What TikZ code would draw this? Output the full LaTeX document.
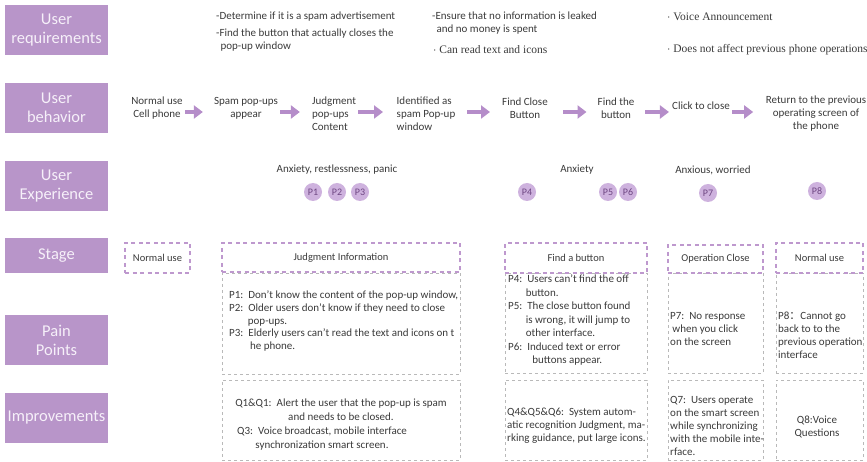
\documentclass[tikz,border=0pt]{standalone}
\usepackage{fontspec}
\setmainfont{Carlito}
\newfontfamily\serifrm{Liberation Serif}
\newfontfamily\cjk{Noto Sans CJK SC}
\usepackage{tikz}
\usetikzlibrary{arrows.meta,positioning}
\definecolor{labelpurple}{RGB}{184,149,201}
\definecolor{labeltext}{RGB}{246,240,249}
\definecolor{arrowpurple}{RGB}{181,141,201}
\definecolor{dotpurple}{RGB}{206,178,222}
\definecolor{dottext}{RGB}{110,70,130}
\definecolor{dashpurple}{RGB}{190,152,206}
\definecolor{cellgray}{RGB}{185,185,185}
\definecolor{inkgray}{RGB}{58,58,58}

\begin{document}
\begin{tikzpicture}[x=1pt, y=-1pt,
  rowlabel/.style={fill=labelpurple, text=labeltext, minimum width=103pt, align=center, inner sep=0pt, font=\fontsize{16.5}{19}\selectfont},
  act/.style={align=center, inner sep=0pt, text=inkgray, font=\fontsize{11}{13}\selectfont},
  need/.style={anchor=west, align=left, inner sep=0pt, text=inkgray, font=\fontsize{11}{13}\selectfont},
  flow/.style={-{Triangle[length=9pt,width=13pt]}, line width=3.6pt, arrowpurple},
  pdot/.style={circle, fill=dotpurple, minimum size=18pt, inner sep=0pt, text=dottext, font=\fontsize{10}{11}\selectfont},
  stagebox/.style={draw=dashpurple, line width=1.6pt, dash pattern=on 4pt off 3.5pt, inner sep=0pt, text=inkgray, font=\fontsize{10.5}{12}\selectfont},
  cellbox/.style={draw=cellgray, line width=0.6pt, dash pattern=on 3pt off 3pt, inner sep=0pt},
  note/.style={anchor=north west, align=left, inner sep=0pt, text=inkgray, font=\fontsize{11}{13}\selectfont}
]
\useasboundingbox (0,0) rectangle (867,462);

% row labels
\node[rowlabel, minimum height=50pt] (lreq) at (56.5,30) {User\\requirements};
\node[rowlabel, minimum height=50pt] (lbeh) at (56.5,108) {User\\behavior};
\node[rowlabel, minimum height=50pt] (lexp) at (56.5,186) {User\\Experience};
\node[rowlabel, minimum height=35pt] (lstg) at (56.5,255.5) {Stage};
\node[rowlabel, minimum height=50pt] (lpain) at (56.5,340) {Pain\\Points};
\node[rowlabel, minimum height=50pt] (limp) at (56.5,418) {Improvements};

% user requirements
\node[need] (req1) at (216,17) {-Determine if it is a spam advertisement};
\node[need] (req2) at (216,40.5) {-Find the button that actually closes the\\\hspace*{0.4em}pop-up window};
\node[need] (req3) at (432,23.5) {-Ensure that no information is leaked\\\hspace*{0.4em}and no money is spent};
\node[need, font=\serifrm\fontsize{11.5}{13}\selectfont] (req4) at (433,50) {$\cdot$ Can read text and icons};
\node[need, font=\serifrm\fontsize{11.5}{13}\selectfont] (req5) at (667,17) {$\cdot$ Voice Announcement};
\node[need, font=\serifrm\fontsize{11.5}{13}\selectfont] (req6) at (667,50) {$\cdot$ Does not affect previous phone operations};

% user behavior
\node[act] (b1) at (157,108) {Normal use\\Cell phone};
\node[act] (b2) at (246,108) {Spam pop-ups\\appear};
\node[act, align=left] (b3) at (334,114) {Judgment\\pop-ups\\Content};
\node[act, align=left] (b4) at (426,114) {Identified as\\spam Pop-up\\window};
\node[act] (b5) at (525,108) {Find Close\\Button};
\node[act] (b6) at (616,108) {Find the\\button};
\node[act] (b7) at (701,106) {Click to close};
\node[act] (b8) at (816,114) {Return to the previous\\operating screen of\\the phone};

\coordinate (flowrow) at (0,112);
\draw[flow, shorten <=2.5pt, shorten >=11pt] (b1.east |- flowrow) -- (b2.west |- flowrow);
\draw[flow, shorten <=2pt, shorten >=12pt] (b2.east |- flowrow) -- (b3.west |- flowrow);
\draw[flow, shorten <=2pt, shorten >=13.5pt] (b3.east |- flowrow) -- (b4.west |- flowrow);
\draw[flow, shorten <=11.5pt, shorten >=12pt] (b4.east |- flowrow) -- (b5.west |- flowrow);
\draw[flow, shorten <=15pt, shorten >=11pt] (b5.east |- flowrow) -- (b6.west |- flowrow);
\draw[flow, shorten <=11pt, shorten >=3pt] (b6.east |- flowrow) -- (b7.west |- flowrow);
\draw[flow, shorten <=2pt, shorten >=12.5pt] (b7.east |- flowrow) -- (b8.west |- flowrow);

% user experience
\node[act] (feel1) at (337,170) {Anxiety, restlessness, panic};
\node[act] (feel2) at (577,170) {Anxiety};
\node[act] (feel3) at (713,170) {Anxious, worried};
\node[pdot] (p1) at (313,192) {P1};
\node[pdot] (p2) at (337,192) {P2};
\node[pdot] (p3) at (360,192) {P3};
\node[pdot] (p4) at (527,192) {P4};
\node[pdot] (p5) at (608,192) {P5};
\node[pdot] (p6) at (628,192) {P6};
\node[pdot] (p7) at (708,193) {P7};
\node[pdot] (p8) at (817,191) {P8};

% pain point and improvement cells
\node[cellbox, minimum width=238pt, minimum height=101pt] (pain2) at (341,323.5) {};
\node[cellbox, minimum width=142pt, minimum height=100pt] (pain3) at (576,323) {};
\node[cellbox, minimum width=95pt, minimum height=100pt] (pain4) at (715.5,323) {};
\node[cellbox, minimum width=87pt, minimum height=100pt] (pain5) at (819.5,323) {};
\node[cellbox, minimum width=238pt, minimum height=80pt] (imp2) at (341,420) {};
\node[cellbox, minimum width=142pt, minimum height=80pt] (imp3) at (576,420) {};
\node[cellbox, minimum width=95pt, minimum height=80pt] (imp4) at (715.5,420) {};
\node[cellbox, minimum width=87pt, minimum height=80pt] (imp5) at (819.5,420) {};

% stages
\node[stagebox, minimum width=65pt, minimum height=30pt] (st1) at (157.5,258) {Normal use};
\node[stagebox, minimum width=238pt, minimum height=29pt] (st2) at (341,257.5) {Judgment Information};
\node[stagebox, minimum width=142pt, minimum height=30pt] (st3) at (576,258) {Find a button};
\node[stagebox, minimum width=95pt, minimum height=28pt] (st4) at (715.5,259) {Operation Close};
\node[stagebox, minimum width=87pt, minimum height=30pt] (st5) at (819.5,258) {Normal use};

% pain points
\node[note, font=\fontsize{11}{12.6}\selectfont] (pt2) at (229,291) {P1:\ \ Don't know the content of the pop-up window,\\P2:\ \ Older users don't know if they need to close\\\hspace*{1.7em}pop-ups.\\P3:\ \ Elderly users can't read the text and icons on t\\\hspace*{1.9em}he phone.};
\node[note, font=\fontsize{11}{13.5}\selectfont] (pt3) at (508,275) {P4:\ \ Users can't find the off\\\hspace*{1.6em}button.\\P5:\ \ The close button found\\\hspace*{1.6em}is wrong, it will jump to\\\hspace*{1.6em}other interface.\\P6:\ \ Induced text or error\\\hspace*{2.2em}buttons appear.};
\node[note] (pt4) at (670,312) {P7:\ \ No response\\\hspace*{0.2em}when you click\\on the screen};
\node[note] (pt5) at (778,312) {P8{\cjk ：}Cannot go\\back to to the\\previous operation\\interface};

% improvements
\node[act, font=\fontsize{11}{14}\selectfont] (q1) at (341,409.5) {Q1\&Q1:\ \ Alert the user that the pop-up is spam\\and needs to be closed.};
\node[act, font=\fontsize{11}{14}\selectfont] (q3) at (322,438.5) {Q3:\ \ Voice broadcast, mobile interface\\synchronization smart screen.};
\node[note] (q4) at (507,408) {Q4\&Q5\&Q6:\ \ System autom-\\atic recognition Judgment, ma-\\rking guidance, put large icons.};
\node[note] (q7) at (670,396) {Q7:\ \ Users operate\\on the smart screen\\while synchronizing\\with the mobile inte-\\rface.};
\node[act, font=\fontsize{11}{13}\selectfont] (q8) at (817,426.5) {Q8:Voice\\Questions};
\end{tikzpicture}
\end{document}
